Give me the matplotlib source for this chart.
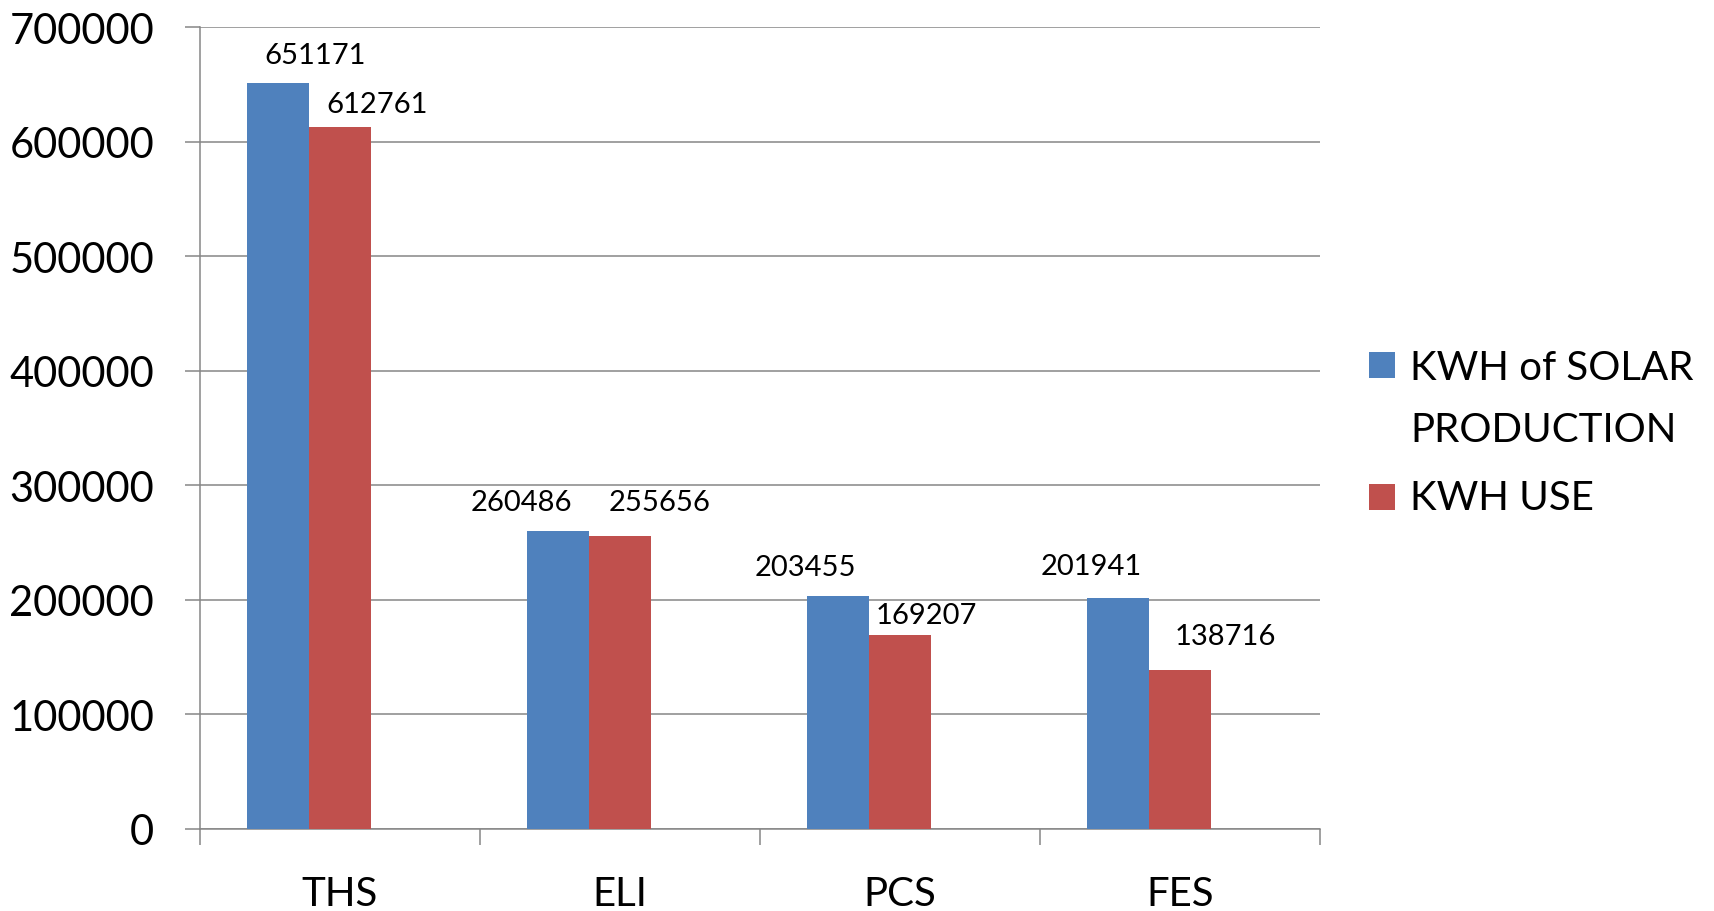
import matplotlib
matplotlib.use("Agg")
import matplotlib.pyplot as plt
from matplotlib.patches import Rectangle
import numpy as np

# ---- data ----
categories = ["THS", "ELI", "PCS", "FES"]
solar_production = [651171, 260486, 203455, 201941]
kwh_use = [612761, 255656, 169207, 138716]
series_names = ["KWH of SOLAR\nPRODUCTION", "KWH USE"]
y_ticks = [0, 100000, 200000, 300000, 400000, 500000, 600000, 700000]

# ---- style ----
BLUE = "#4F81BD"
RED = "#C0504D"
GRID = "#868686"
plt.rcParams['font.family'] = ['Lato', 'DejaVu Sans']

W, H = 1715, 912
fig = plt.figure(figsize=(W / 100, H / 100), dpi=100)
ax = fig.add_axes([200 / W, (H - 830) / H, 1120 / W, 802 / H])

x = np.arange(len(categories))
bw = 0.2214
b1 = ax.bar(x - bw, solar_production, bw, color=BLUE, zorder=3)
b2 = ax.bar(x, kwh_use, bw, color=RED, zorder=3)

ax.set_xlim(-0.5, len(categories) - 0.5)
ax.set_ylim(0, 700000)

ax.set_yticks(y_ticks)
ax.set_yticklabels([str(v) for v in y_ticks], fontsize=30)
ax.yaxis.grid(True, color=GRID, lw=1.1, zorder=0)
ax.set_axisbelow(True)
ax.tick_params(axis='y', length=11, width=1.1, color=GRID, pad=22)

ax.set_xticks(np.arange(-0.5, len(categories), 1))
ax.set_xticklabels([])
ax.set_xticks(x, minor=True)
ax.set_xticklabels(categories, minor=True, fontsize=29)
ax.tick_params(axis='x', which='major', length=11.5, width=1.1, color=GRID)
ax.tick_params(axis='x', which='minor', length=0, pad=33)

for s in ['top', 'right']:
    ax.spines[s].set_visible(False)
for s in ['left', 'bottom']:
    ax.spines[s].set_color(GRID)
    ax.spines[s].set_linewidth(1.1)

# data labels (offsets in pixels from bar top centre)
blue_off = [(37, 28), (-37, 29), (-33, 29), (-27, 32)]
red_off = [(37, 23), (40, 34), (26, 20), (45, 34)]
for bars, vals, offs in [(b1, solar_production, blue_off), (b2, kwh_use, red_off)]:
    for rect, v, (dx, dy) in zip(bars, vals, offs):
        ax.annotate(str(v), (rect.get_x() + rect.get_width() / 2, rect.get_height()),
                    xytext=(dx, dy), textcoords='offset pixels',
                    ha='center', va='center', fontsize=21)

# legend (manual, pixel coordinates)
colors = [BLUE, RED]
sq_tops = [353, 485]
baselines = [380, 510]
for name, col, st, bl in zip(series_names, colors, sq_tops, baselines):
    fig.patches.append(Rectangle((1369, H - st - 26), 26, 26, transform=None,
                                 facecolor=col, edgecolor='none'))
    for i, line in enumerate(name.split('\n')):
        fig.text(1410, H - (bl + i * 62), line, transform=None,
                 fontsize=29, va='baseline', ha='left')

fig.savefig("out.png", dpi=100)
